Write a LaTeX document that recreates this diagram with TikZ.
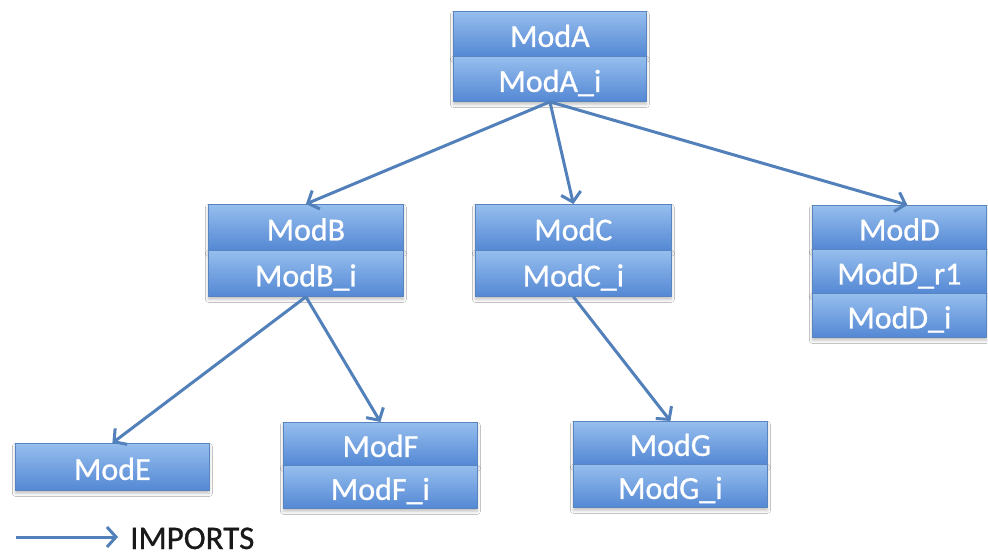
\documentclass[tikz,border=0pt]{standalone}
\usepackage{fontspec}
\setmainfont{Carlito}
\newfontfamily\cellfont{Carlito}[FakeBold=0.8]
\usetikzlibrary{arrows.meta,shadows.blur}
\definecolor{cellTop}{RGB}{150,190,238}
\definecolor{cellBot}{RGB}{84,136,212}
\definecolor{cellLine}{RGB}{88,132,192}
\definecolor{linkBlue}{RGB}{82,128,186}
\tikzset{
  cell/.style={draw=cellLine, line width=0.8pt, top color=cellTop, bottom color=cellBot,
    text=white, font=\cellfont\fontsize{32}{32}\selectfont, inner sep=0pt, anchor=north west,
    text height=29pt, text depth=3pt,
    blur shadow={shadow xshift=0pt, shadow yshift=-3pt, shadow blur radius=3pt, shadow opacity=25}},
  link/.style={draw=linkBlue, line width=3pt, -{Straight Barb[length=9pt, width=20pt, line width=3pt]}},
}
\begin{document}
\begin{tikzpicture}[x=1pt, y=-1pt]
  \useasboundingbox[fill=white] (0,0) rectangle (988,556);

  % ModA
  \node[cell, minimum width=193pt, minimum height=45pt] (A1) at (453,11) {ModA};
  \node[cell, minimum width=193pt, minimum height=45pt] (A2) at (453,56) {ModA\_i};
  % ModB
  \node[cell, minimum width=195pt, minimum height=46pt] (B1) at (208,204) {ModB};
  \node[cell, minimum width=195pt, minimum height=46pt] (B2) at (208,250) {ModB\_i};
  % ModC
  \node[cell, minimum width=196pt, minimum height=46pt] (C1) at (475,204) {ModC};
  \node[cell, minimum width=196pt, minimum height=46pt] (C2) at (475,250) {ModC\_i};
  % ModD
  \node[cell, minimum width=174pt, minimum height=44pt] (D1) at (812,205) {ModD};
  \node[cell, minimum width=174pt, minimum height=44pt] (D2) at (812,249) {ModD\_r1};
  \node[cell, minimum width=174pt, minimum height=44pt] (D3) at (812,293) {ModD\_i};
  % ModE
  \node[cell, minimum width=194pt, minimum height=47pt] (E1) at (15,443) {ModE};
  % ModF
  \node[cell, minimum width=194pt, minimum height=43pt] (F1) at (283,422) {ModF};
  \node[cell, minimum width=194pt, minimum height=43pt] (F2) at (283,465) {ModF\_i};
  % ModG
  \node[cell, minimum width=194pt, minimum height=43pt] (G1) at (573,421) {ModG};
  \node[cell, minimum width=194pt, minimum height=43pt] (G2) at (573,464) {ModG\_i};

  % import links
  \draw[link] (A2.south) -- (B1.north);
  \draw[link] (A2.south) -- (C1.north);
  \draw[link] (A2.south) -- ([xshift=8pt]D1.north);
  \draw[link] (B2.south) -- (E1.north);
  \draw[link] (B2.south) -- (F1.north);
  \draw[link] (C2.south) -- (G1.north);

  % legend
  \coordinate (L0) at (16,537);
  \coordinate (L1) at (118,537);
  \draw[link] (L0) -- (L1);
  \node[anchor=base west, inner sep=0pt, font=\cellfont\fontsize{33}{33}\selectfont, text=black!90] (legend) at (130,549) {IMPORTS};
\end{tikzpicture}
\end{document}
